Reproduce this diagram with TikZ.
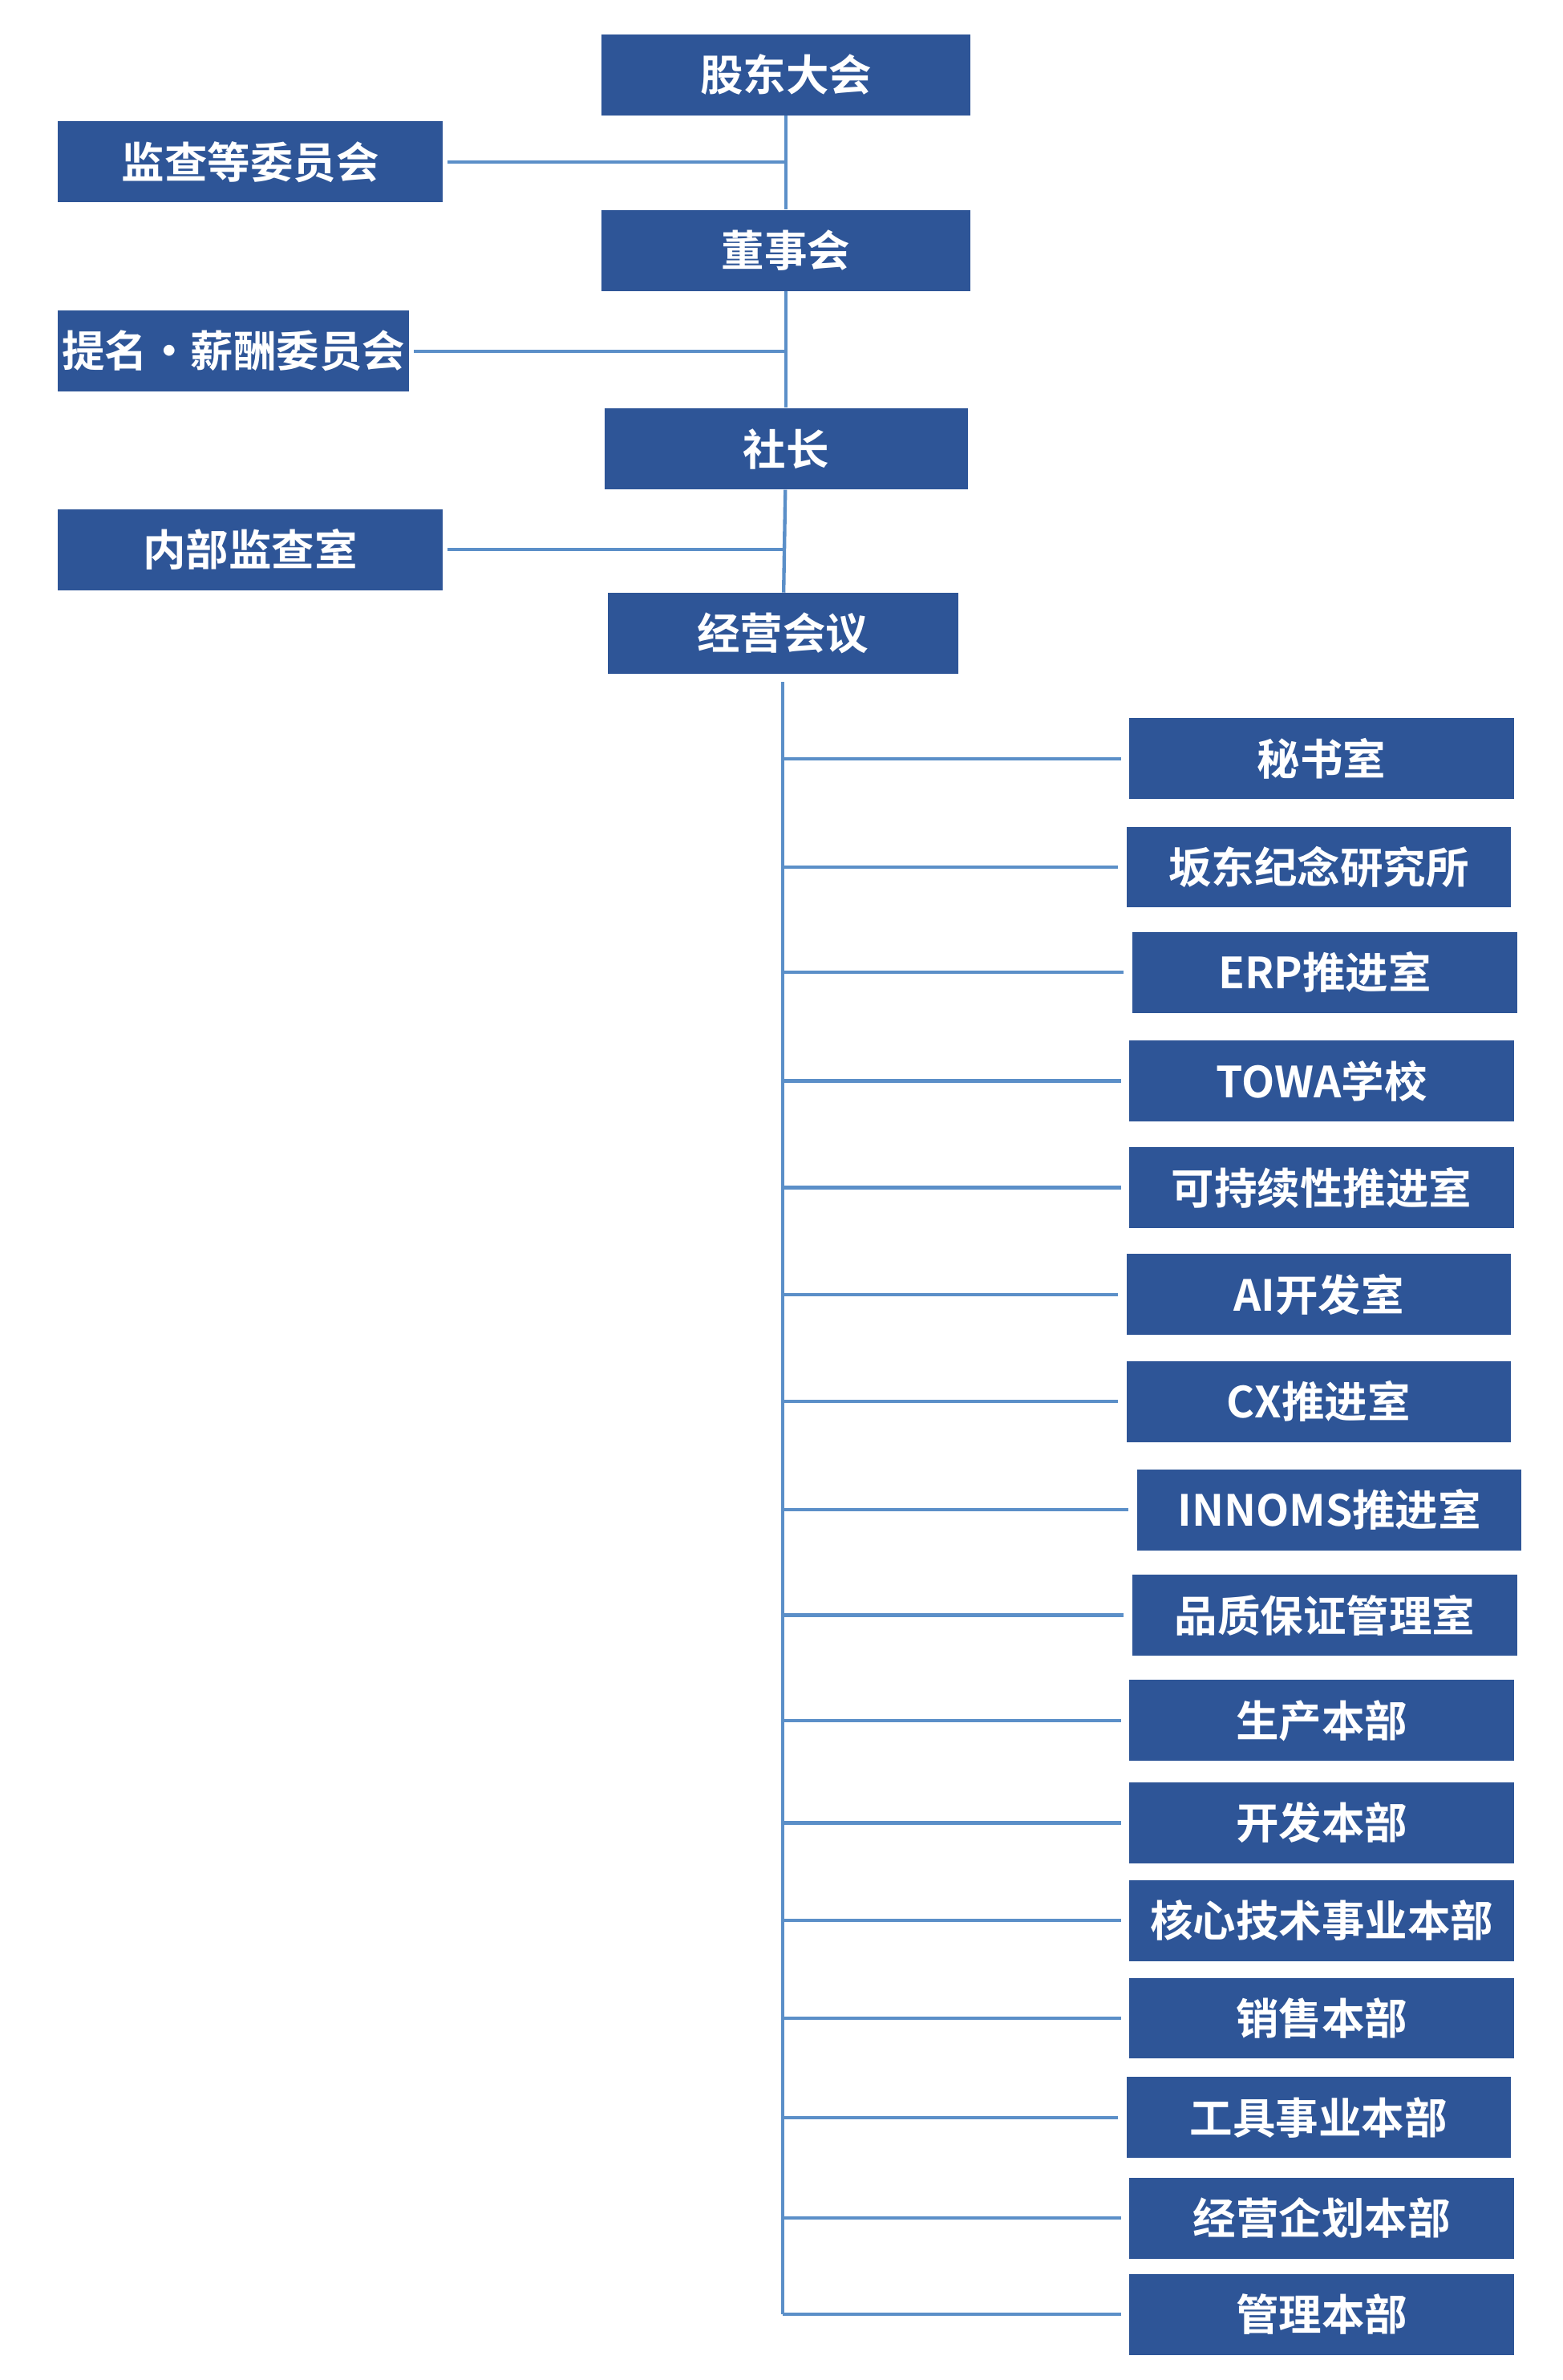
\documentclass[tikz,border=0pt]{standalone}
\usepackage{fontspec}
\newfontfamily\cjk{Noto Sans CJK SC Bold}
\definecolor{boxblue}{HTML}{2E5597}
\definecolor{lineblue}{HTML}{5B8FC8}
\tikzset{
  block/.style = {rectangle, fill=boxblue, text=white, font=\cjk\fontsize{16}{18}\selectfont,
    inner sep=0pt, minimum height=1.06cm},
  wide/.style = {block, minimum width=5.04cm},
  mid/.style = {block, minimum width=4.76cm},
  line/.style = {draw=lineblue, line width=1.3pt}
}
\begin{document}
\begin{tikzpicture}[x=0.02cm, y=-0.02cm]
    \useasboundingbox (0,0) rectangle (1024,1559);
    % top chain
    \node [block, minimum width=4.84cm] (gddh) at (515,49) {股东大会};
    \node [wide] (jcwy) at (164,106) {监查等委员会};
    \node [block, minimum width=4.84cm] (dsh) at (515,164) {董事会};
    \node [block, minimum width=4.6cm] (tmxc) at (153,230) {提名·薪酬委员会};
    \node [mid] (sz) at (515,294) {社长};
    \node [wide] (nbjc) at (164,360) {内部监查室};
    \node [block, minimum width=4.6cm] (jyhy) at (513,415) {经营会议};

    \path [line] (gddh) -- (dsh);
    \path [line] (dsh) -- (sz);
    \path [line] (sz) -- (jyhy);
    \path [line] (jcwy.east) ++(3,0) -- (jcwy.east -| gddh);
    \path [line] (tmxc.east) ++(3,0) -- (tmxc.east -| gddh);
    \path [line] (nbjc.east) ++(3,0) -- (nbjc.east -| gddh);

    % departments
    \node [wide] (msh) at (866,497) {秘书室};
    \node [wide] (bdjn) at (864,568) {坂东纪念研究所};
    \node [wide] (erp) at (868,637) {ERP推进室};
    \node [wide] (towa) at (866,708) {TOWA学校};
    \node [wide] (kcx) at (866,778) {可持续性推进室};
    \node [wide] (ai) at (864,848) {AI开发室};
    \node [wide] (cx) at (864,918) {CX推进室};
    \node [wide] (inno) at (871,989) {INNOMS推进室};
    \node [wide] (pzbz) at (868,1058) {品质保证管理室};
    \node [wide] (scbb) at (866,1127) {生产本部};
    \node [wide] (kfbb) at (866,1194) {开发本部};
    \node [wide] (hxjs) at (866,1258) {核心技术事业本部};
    \node [wide] (xsbb) at (866,1322) {销售本部};
    \node [wide] (gjsy) at (864,1387) {工具事业本部};
    \node [wide] (jyqh) at (866,1453) {经营企划本部};
    \node [wide] (glbb) at (866,1516) {管理本部};

    \coordinate (trunk) at (513,1516);
    \path [line] (jyhy.south) ++(0,5) -- (trunk);
    \foreach \d in {msh,bdjn,erp,towa,kcx,ai,cx,inno,pzbz,scbb,kfbb,hxjs,xsbb,gjsy,jyqh,glbb}
      \path [line] (\d.west -| trunk) -- ([xshift=-3pt]\d.west);
\end{tikzpicture}
\end{document}
